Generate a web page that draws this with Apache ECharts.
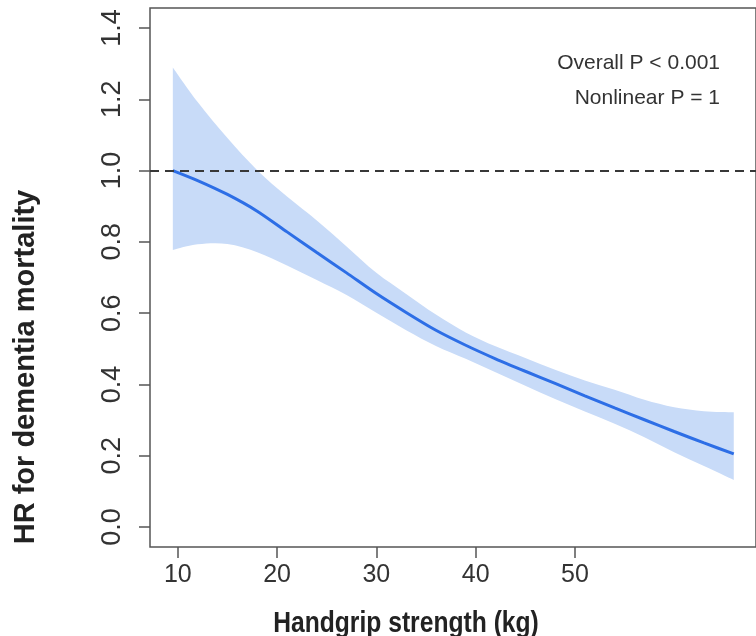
<!DOCTYPE html>
<html>
<head>
<meta charset="utf-8">
<script src="https://cdn.jsdelivr.net/npm/echarts@6/dist/echarts.min.js"></script>
<style>html,body{margin:0;padding:0;background:#fff}#c{width:756px;height:636px}</style>
</head>
<body>
<div id="c"></div>
<script>
const xs    = [9.5, 12, 15, 18, 21, 24, 27, 30, 33, 36, 39, 42, 45, 48, 51, 54, 57, 60, 63, 66];
const hr    = [1.000,0.972,0.933,0.886,0.828,0.770,0.713,0.655,0.602,0.552,0.510,0.472,0.437,0.403,0.368,0.334,0.301,0.268,0.236,0.205];
const upper = [1.289,1.192,1.091,1.001,0.927,0.860,0.787,0.713,0.654,0.596,0.546,0.507,0.474,0.441,0.411,0.385,0.357,0.336,0.325,0.322];
const lower = [0.777,0.793,0.794,0.771,0.734,0.693,0.651,0.601,0.552,0.508,0.472,0.434,0.396,0.359,0.324,0.290,0.252,0.210,0.171,0.132];
const xTicks = [10, 20, 30, 40, 50];
const yTicks = [0, 0.2, 0.4, 0.6, 0.8, 1.0, 1.2, 1.4];
const refLine = 1.0;
const annot = ['Overall P < 0.001', 'Nonlinear P = 1'];
const xTitle = 'Handgrip strength (kg)';
const yTitle = 'HR for dementia mortality';

const bandData = xs.map((x, i) => [x, lower[i], upper[i]]);

// Catmull-Rom spline segments through pixel points (rendering only)
function splineSegs(p) {
  let s = '';
  for (let i = 0; i < p.length - 1; i++) {
    const p0 = p[Math.max(0, i - 1)], p1 = p[i], p2 = p[i + 1], p3 = p[Math.min(p.length - 1, i + 2)];
    const c1 = [p1[0] + (p2[0] - p0[0]) / 6, p1[1] + (p2[1] - p0[1]) / 6];
    const c2 = [p2[0] - (p3[0] - p1[0]) / 6, p2[1] - (p3[1] - p1[1]) / 6];
    s += ' C' + c1[0].toFixed(2) + ',' + c1[1].toFixed(2) + ' ' + c2[0].toFixed(2) + ',' + c2[1].toFixed(2) + ' ' + p2[0].toFixed(2) + ',' + p2[1].toFixed(2);
  }
  return s;
}

const chart = echarts.init(document.getElementById('c'), null, {renderer: 'canvas'});
const axisCol = '#555';
chart.setOption({
  animation: false,
  backgroundColor: '#fff',
  grid: {left: 150, right: -2, top: 8, bottom: 89, show: true, borderColor: axisCol, borderWidth: 1.5, backgroundColor: 'transparent'},
  xAxis: {
    type: 'value', min: 7.2, max: 68.24,
    splitLine: {show: false},
    axisLine: {show: false, onZero: false},
    axisTick: {show: true, length: 11, customValues: xTicks, lineStyle: {color: axisCol, width: 1.5}},
    axisLabel: {customValues: xTicks, fontSize: 25, fontFamily: 'Liberation Sans', color: '#333', margin: 16}
  },
  yAxis: {
    type: 'value', min: -0.056, max: 1.456,
    splitLine: {show: false},
    axisLine: {show: false, onZero: false},
    axisTick: {show: true, length: 11, customValues: yTicks, lineStyle: {color: axisCol, width: 1.5}},
    axisLabel: {customValues: yTicks, rotate: 90, fontSize: 27, fontFamily: 'Liberation Sans', color: '#333', margin: 24,
      formatter: v => v.toFixed(1)}
  },
  series: [
    {type: 'custom', data: bandData, silent: true, z: 1,
     encode: {x: 0, y: [1, 2]},
     renderItem: function (params, api) {
       if (params.dataIndex !== 0) return null;
       const top = bandData.map(d => api.coord([d[0], d[2]]));
       const bot = bandData.map(d => api.coord([d[0], d[1]])).reverse();
       const path = 'M' + top[0][0].toFixed(2) + ',' + top[0][1].toFixed(2) + splineSegs(top)
         + ' L' + bot[0][0].toFixed(2) + ',' + bot[0][1].toFixed(2) + splineSegs(bot) + ' Z';
       return {type: 'path', shape: {pathData: path}, style: {fill: '#c8dbf8'}};
     }},
    {type: 'line', data: xs.map((x, i) => [x, hr[i]]), symbol: 'none', smooth: 0.25,
     lineStyle: {color: '#2d6ee6', width: 3}, z: 4,
     markLine: {silent: true, symbol: 'none', label: {show: false},
       lineStyle: {color: '#383838', type: [9, 6], width: 2},
       data: [{yAxis: refLine}]}}
  ],
  graphic: [
    {type: 'text', x: 720, y: 63, style: {text: annot[0], fontSize: 21, fontFamily: 'Liberation Sans', fill: '#333', textAlign: 'right', textVerticalAlign: 'middle'}},
    {type: 'text', x: 720, y: 98, style: {text: annot[1], fontSize: 21, fontFamily: 'Liberation Sans', fill: '#333', textAlign: 'right', textVerticalAlign: 'middle'}},
    {type: 'text', x: 406, y: 624, scaleX: 0.85, style: {text: xTitle, fontSize: 29, fontWeight: 'bold', fontFamily: 'Liberation Sans', fill: '#222', textAlign: 'center', textVerticalAlign: 'middle'}},
    {type: 'text', x: 26, y: 367, rotation: Math.PI / 2, style: {text: yTitle, fontSize: 29, fontWeight: 'bold', fontFamily: 'Liberation Sans', fill: '#222', textAlign: 'center', textVerticalAlign: 'middle'}}
  ]
});
</script>
</body>
</html>
